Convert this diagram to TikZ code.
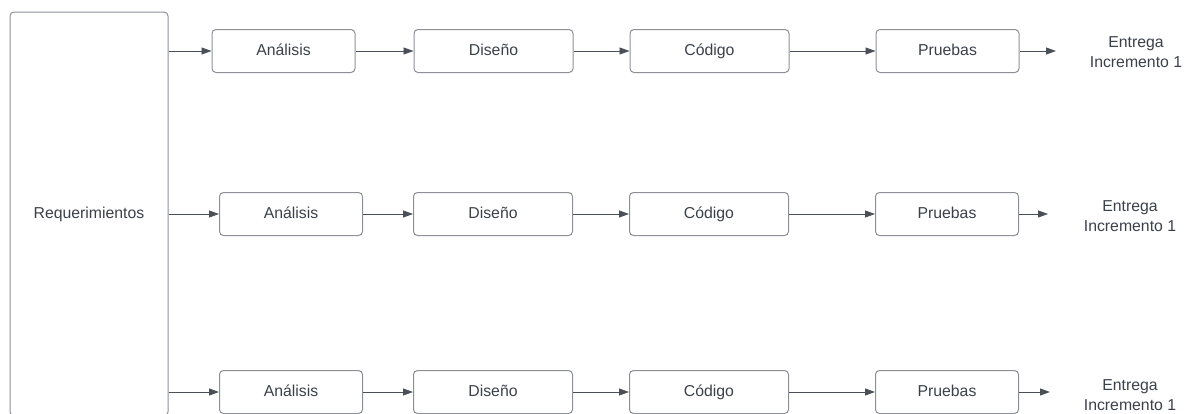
\documentclass[tikz,border=0pt]{standalone}
\usepackage{fontspec}
\setmainfont{Liberation Sans}
\usetikzlibrary{positioning,arrows.meta}

\definecolor{boxline}{HTML}{8C9096}
\definecolor{txt}{HTML}{3B4049}
\definecolor{arrowline}{HTML}{4A4F58}

\begin{document}
\begin{tikzpicture}[%
        x=1pt, y=-1pt,
        >={Triangle[length=10pt,width=7pt]},
        font=\fontsize{15.8}{20}\selectfont,
        text=txt,
        box/.style={draw=boxline, line width=1pt, rounded corners=4pt,
            minimum height=43pt, inner sep=0pt, text height=11pt, text depth=3pt},
        small/.style={box, minimum width=143pt},
        wide/.style={box, minimum width=159pt},
        delivery/.style={align=center, inner sep=0pt},
        link/.style={->, draw=arrowline, line width=0.9pt}
        ]

        \useasboundingbox (0,0) rectangle (1191,413);
        \clip (0,0) rectangle (1191,413);

        \node[box, minimum width=158pt, minimum height=404pt] (req) at (89,214) {Requerimientos};

        % first increment
        \node[small] (a1) at (283.5,51) {Análisis};
        \node[wide] (d1) [right=58pt of a1] {Diseño};
        \node[wide] (c1) [right=56pt of d1] {Código};
        \node[small] (p1) [right=86pt of c1] {Pruebas};
        \coordinate (t1) at (1056,51);
        \node[delivery] (e1) at (1136,52) {Entrega\\Incremento 1};

        % second increment
        \node[small] (a2) at (291,214) {Análisis};
        \node[wide] (d2) [right=50pt of a2] {Diseño};
        \node[wide] (c2) [right=56pt of d2] {Código};
        \node[small] (p2) [right=86pt of c2] {Pruebas};
        \coordinate (t2) at (1048,214);
        \node[delivery] (e2) at (1130,216) {Entrega\\Incremento 1};

        % third increment
        \node[small] (a3) at (291,392) {Análisis};
        \node[wide] (d3) [right=50pt of a3] {Diseño};
        \node[wide] (c3) [right=56pt of d3] {Código};
        \node[small] (p3) [right=86pt of c3] {Pruebas};
        \coordinate (t3) at (1050,392);
        \node[delivery] (e3) at (1130,395) {Entrega\\Incremento 1};

        \foreach \r in {1,2,3} {
            \draw[link] (req.east |- a\r.west) -- (a\r);
            \draw[link] (a\r) -- (d\r);
            \draw[link] (d\r) -- (c\r);
            \draw[link] (c\r) -- (p\r);
            \draw[link] (p\r) -- (t\r);
        }

\end{tikzpicture}
\end{document}
